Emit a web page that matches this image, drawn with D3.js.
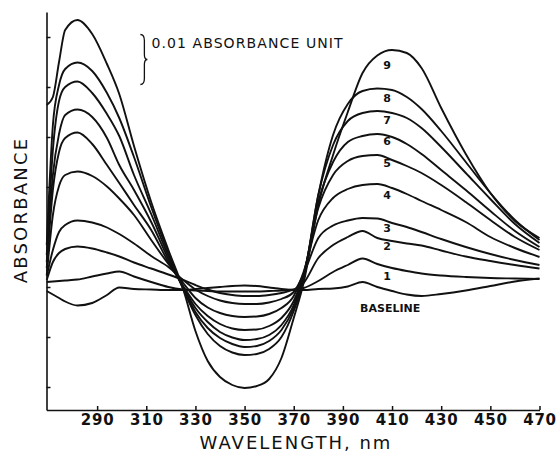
<!DOCTYPE html>
<html>
<head>
<meta charset="utf-8">
<script src="https://cdnjs.cloudflare.com/ajax/libs/d3/7.8.5/d3.min.js"></script>
<style>
  body { margin: 0; background: #fff; }
  svg { display: block; }
  text { font-family: "DejaVu Sans", sans-serif; fill: #111; }
</style>
</head>
<body>
<script>
// difference spectra, values in milli-absorbance (10 = 0.01 absorbance unit)
var wavelength = [269.5, 272, 274.5, 277, 282, 288, 294, 299, 305, 312, 319, 325, 330, 335, 340, 345, 350, 355, 360, 365,
                  370, 374, 380, 386, 392, 398, 404, 410, 416, 422, 430, 440, 450, 460, 470];

var baseline = [-0.8, -1.5, -2.2, -2.9, -3.7, -3.2, -1.6, -0.1, -0.4, -0.5, -0.6, -0.6, -0.4, -0.2, 0.0, 0.2, 0.3, 0.2, -0.1, -0.4,
                -0.6, -0.6, -0.4, -0.3, 0.1, 1.0, 0.0, -0.8, -1.5, -1.8, -1.4, -0.7, 0.2, 1.1, 1.7];
var curve1 = [1.0, 1.1, 1.2, 1.3, 1.5, 2.1, 2.7, 3.1, 2.1, 1.0, 0.0, -0.5, -0.7, -0.8, -0.9, -0.9, -0.9, -0.9, -0.8, -0.7,
              -0.5, -0.2, 1.2, 3.0, 4.4, 5.7, 4.6, 3.8, 3.2, 2.7, 2.3, 2.0, 1.8, 1.7, 1.6];
var curve2 = [1.4, 5.0, 6.8, 7.6, 8.1, 7.7, 6.9, 6.1, 4.9, 3.7, 2.5, 1.4, 0.4, -0.5, -1.2, -1.6, -1.8, -1.8, -1.6, -1.2,
              -0.5, 0.8, 5.8, 8.4, 10.0, 11.2, 9.8, 9.2, 8.7, 8.3, 7.3, 6.1, 5.2, 4.4, 3.7];
var curve3 = [2.2, 7.4, 11.0, 12.4, 13.3, 12.9, 11.9, 10.6, 8.7, 6.2, 4.0, 1.4, -0.5, -1.8, -2.7, -3.2, -3.4, -3.4, -3.1, -2.4,
              -1.0, 2.6, 9.8, 12.3, 13.3, 13.8, 13.7, 12.8, 12.0, 11.0, 9.6, 8.0, 6.6, 5.4, 4.4];
var curve4 = [2.4, 14.4, 20.2, 22.4, 23.1, 22.2, 20.1, 17.7, 14.4, 9.4, 4.6, 0.8, -2.2, -4.1, -5.2, -5.8, -6.0, -5.9, -5.4, -4.2,
              -1.8, 3.0, 13.4, 17.8, 19.6, 20.4, 20.6, 19.8, 18.6, 17.2, 15.4, 13.0, 10.0, 7.8, 6.0];
var curve5 = [3.8, 19.4, 27.0, 29.8, 30.9, 28.6, 24.4, 20.8, 16.4, 11.4, 5.0, 0.2, -3.4, -5.8, -7.4, -8.3, -8.6, -8.5, -7.8, -6.2,
              -2.8, 2.6, 15.8, 22.4, 25.2, 26.2, 26.4, 25.4, 24.2, 22.8, 20.4, 17.0, 13.4, 10.0, 7.4];
var curve6 = [5.0, 22.4, 30.6, 34.4, 35.5, 34.0, 29.8, 24.4, 19.4, 13.0, 5.6, 0.0, -4.2, -7.0, -9.0, -10.1, -10.6, -10.4, -9.6, -7.6,
              -3.6, 2.2, 17.0, 25.0, 29.0, 30.2, 30.6, 30.0, 28.6, 26.6, 23.4, 19.4, 15.2, 11.2, 8.0];
var curve7 = [6.4, 27.4, 37.2, 40.0, 41.1, 38.8, 34.6, 30.2, 22.4, 14.6, 6.2, -0.2, -5.0, -8.2, -10.2, -11.4, -12.0, -11.8, -10.8, -8.6,
              -4.2, 1.8, 18.4, 28.4, 33.2, 34.8, 35.2, 34.8, 33.8, 31.8, 28.0, 22.8, 17.6, 12.6, 8.8];
var curve8 = [8.4, 32.4, 40.4, 43.6, 44.9, 43.2, 38.8, 33.8, 26.0, 16.0, 6.8, -0.4, -5.6, -9.4, -11.8, -13.1, -13.6, -13.4, -12.4, -10.0,
              -4.8, 1.4, 18.4, 30.4, 36.6, 39.2, 39.7, 39.4, 38.0, 35.6, 31.2, 25.0, 18.8, 13.4, 9.4];
var curve9 = [36.4, 38.0, 45.0, 51.4, 53.4, 50.6, 44.6, 38.6, 28.2, 17.0, 7.4, -0.4, -8.8, -14.8, -18.0, -19.6, -20.2, -19.8, -18.4, -14.2,
              -6.2, 0.8, 16.4, 26.4, 35.0, 42.8, 46.3, 47.4, 46.8, 43.8, 35.8, 26.6, 18.8, 13.2, 9.8];

var curveNames = ["1", "2", "3", "4", "5", "6", "7", "8", "9"];
var labelWave = [408, 408, 408, 408, 408, 408, 408, 408, 408];
var labelValue = [2.1, 8.1, 11.7, 18.4, 24.7, 29.1, 33.4, 37.7, 44.4];

var xTicks = [290, 310, 330, 350, 370, 390, 410, 430, 450, 470];
var yTicks = [-20, -10, 0, 10, 20, 30, 40, 50];

var svgWidth = 558;
var svgHeight = 457;
var margin = { top: 12, right: 18.5, bottom: 47, left: 46.5 };
var width = svgWidth - margin.left - margin.right;
var height = svgHeight - margin.top - margin.bottom;

var svg = d3.select("body")
  .append("svg")
  .attr("width", svgWidth)
  .attr("height", svgHeight);

svg.append("rect").attr("width", svgWidth).attr("height", svgHeight).attr("fill", "#fff");

var chartGroup = svg.append("g").attr("transform", `translate(${margin.left}, ${margin.top})`);

var xScale = d3.scaleLinear().domain([269.4, 470]).range([0, width]);
var yScale = d3.scaleLinear().domain([-24.6, 55]).range([height, 0]);

// axes, ticks pointing inward
var xAxis = d3.axisBottom(xScale).tickValues(xTicks).tickSizeInner(-4).tickSizeOuter(0).tickPadding(4);
var yAxis = d3.axisLeft(yScale).tickValues(yTicks).tickSizeInner(-4).tickSizeOuter(0).tickFormat("");

var gx = chartGroup.append("g")
  .attr("transform", `translate(0, ${height})`)
  .call(xAxis);
gx.selectAll("text")
  .style("font-size", "15px")
  .style("font-weight", "bold")
  .style("letter-spacing", "0.8px")
  .attr("fill", "#111");

var gy = chartGroup.append("g").call(yAxis);

chartGroup.selectAll(".domain").attr("stroke", "#111").attr("stroke-width", 1.6);
chartGroup.selectAll(".tick line").attr("stroke", "#111").attr("stroke-width", 1.5);

// spectra
var series = [baseline, curve1, curve2, curve3, curve4, curve5, curve6, curve7, curve8, curve9];

var line = d3.line()
  .x((d, i) => xScale(wavelength[i]))
  .y(d => yScale(d))
  .curve(d3.curveMonotoneX);

chartGroup.selectAll("path.spectrum")
  .data(series)
  .enter()
  .append("path")
  .attr("class", "spectrum")
  .attr("d", line)
  .attr("fill", "none")
  .attr("stroke", "#111")
  .attr("stroke-width", 1.9)
  .attr("stroke-linejoin", "round");

// curve numbers
chartGroup.selectAll("text.curveLabel")
  .data(curveNames)
  .enter()
  .append("text")
  .attr("class", "curveLabel")
  .attr("x", (d, i) => xScale(labelWave[i]))
  .attr("y", (d, i) => yScale(labelValue[i]))
  .attr("dy", "0.36em")
  .attr("text-anchor", "middle")
  .style("font-size", "11px")
  .style("font-weight", "bold")
  .text(d => d);

chartGroup.append("text")
  .attr("x", xScale(397))
  .attr("y", yScale(-4.2))
  .attr("dy", "0.36em")
  .style("font-size", "11px")
  .style("font-weight", "bold")
  .text("BASELINE");

// scale bracket: 0.01 absorbance unit
var bx = xScale(307.6);
var bTop = yScale(50.5);
var bBot = yScale(40.5);
var bMid = (bTop + bBot) / 2;
chartGroup.append("path")
  .attr("d", `M${bx},${bTop} Q${bx + 4},${bTop} ${bx + 4},${bTop + 6} L${bx + 4},${bMid - 5}` +
             ` Q${bx + 4},${bMid} ${bx + 7},${bMid} Q${bx + 4},${bMid} ${bx + 4},${bMid + 5}` +
             ` L${bx + 4},${bBot - 6} Q${bx + 4},${bBot} ${bx},${bBot}`)
  .attr("fill", "none")
  .attr("stroke", "#111")
  .attr("stroke-width", 1.3);

chartGroup.append("text")
  .attr("x", bx + 11)
  .attr("y", bMid - 12)
  .style("font-size", "14px")
  .style("letter-spacing", "1.1px")
  .text("0.01 ABSORBANCE UNIT");

// axis titles
svg.append("text")
  .attr("x", 296)
  .attr("y", 449)
  .attr("text-anchor", "middle")
  .style("font-size", "18px")
  .style("letter-spacing", "2px")
  .text("WAVELENGTH, nm");

svg.append("text")
  .attr("transform", "translate(27, 210) rotate(-90)")
  .attr("text-anchor", "middle")
  .style("font-size", "18px")
  .style("letter-spacing", "2.2px")
  .text("ABSORBANCE");
</script>
</body>
</html>
